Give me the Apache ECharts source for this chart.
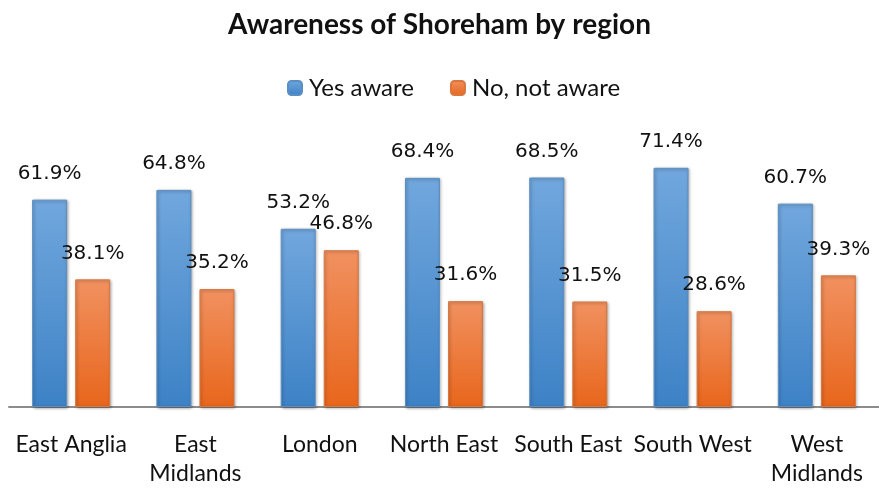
<!DOCTYPE html>
<html>
<head>
<meta charset="utf-8">
<script src="https://cdn.jsdelivr.net/npm/echarts@6/dist/echarts.min.js"></script>
<style>
  html, body { margin: 0; padding: 0; background: #fff; }
  #chart { width: 879px; height: 488px; }
</style>
</head>
<body>
<div id="chart"></div>
<script>
const regions = ["East Anglia", "East\nMidlands", "London", "North East", "South East", "South West", "West\nMidlands"];
const yesAware = [61.9, 64.8, 53.2, 68.4, 68.5, 71.4, 60.7];
const notAware = [38.1, 35.2, 46.8, 31.6, 31.5, 28.6, 39.3];

function grad(top, bottom) {
  return new echarts.graphic.LinearGradient(0, 0, 0, 1, [
    { offset: 0, color: top },
    { offset: 1, color: bottom },
  ]);
}

const labelStyle = {
  show: true,
  position: "top",
  distance: 16,
  fontFamily: "DejaVu Sans",
  fontSize: 20,
  color: "#111",
  formatter: (p) => p.value.toFixed(1) + "%",
};

const chart = echarts.init(document.getElementById("chart"));
chart.setOption({
  animation: false,
  title: {
    text: "Awareness of Shoreham by region",
    left: "center",
    top: 6,
    textStyle: { fontFamily: "Lato", fontWeight: "bold", fontSize: 28, color: "#111" },
  },
  legend: {
    top: 71,
    left: 282,
    itemWidth: 14,
    itemHeight: 14,
    itemGap: 36,
    textStyle: { fontFamily: "Lato", fontSize: 24, color: "#111", padding: [0, 0, 0, 2] },
    data: ["Yes aware", "No, not aware"],
  },
  grid: { left: 9, right: -12, top: 72, bottom: 80 },
  xAxis: {
    type: "category",
    data: regions,
    axisLine: { lineStyle: { color: "#8c8c8c", width: 2 } },
    axisTick: { show: false },
    axisLabel: { fontFamily: "Lato", fontSize: 23, color: "#111", margin: 23, lineHeight: 29, interval: 0 },
  },
  yAxis: { type: "value", min: 0, max: 100, show: false, splitLine: { show: false } },
  series: [
    {
      name: "Yes aware",
      type: "bar",
      data: yesAware,
      barWidth: 35,
      barGap: "23%",
      itemStyle: { color: grad("#71a7dd", "#3d82c6"), borderColor: "#5b8fc4", borderWidth: 1, shadowColor: "rgba(0,0,0,0.35)", shadowBlur: 3, shadowOffsetX: 1, shadowOffsetY: 1 },
      label: labelStyle,
    },
    {
      name: "No, not aware",
      type: "bar",
      data: notAware,
      barWidth: 35,
      itemStyle: { color: grad("#f19160", "#e8661c"), borderColor: "#d9773f", borderWidth: 1, shadowColor: "rgba(0,0,0,0.35)", shadowBlur: 3, shadowOffsetX: 1, shadowOffsetY: 1 },
      label: labelStyle,
    },
  ],
});
</script>
</body>
</html>
